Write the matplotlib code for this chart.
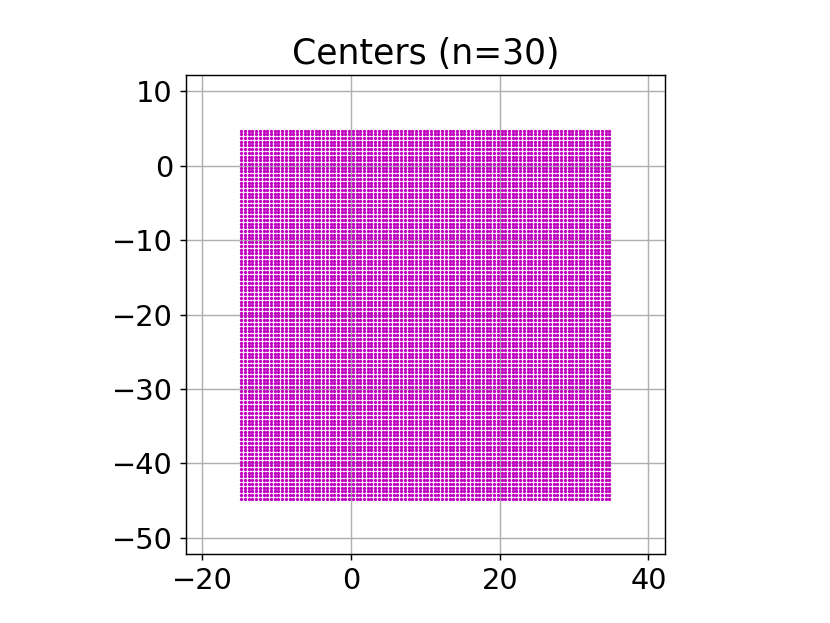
#!/usr/bin/env python3
"""Centers of the n=30 grid."""
import matplotlib
matplotlib.use("Agg")
import matplotlib.pyplot as plt

# grid coordinates (cell centers, step 0.5)
x_centers = [
    -14.75, -14.25, -13.75, -13.25, -12.75, -12.25, -11.75, -11.25, -10.75, -10.25,
    -9.75, -9.25, -8.75, -8.25, -7.75, -7.25, -6.75, -6.25, -5.75, -5.25,
    -4.75, -4.25, -3.75, -3.25, -2.75, -2.25, -1.75, -1.25, -0.75, -0.25,
    0.25, 0.75, 1.25, 1.75, 2.25, 2.75, 3.25, 3.75, 4.25, 4.75,
    5.25, 5.75, 6.25, 6.75, 7.25, 7.75, 8.25, 8.75, 9.25, 9.75,
    10.25, 10.75, 11.25, 11.75, 12.25, 12.75, 13.25, 13.75, 14.25, 14.75,
    15.25, 15.75, 16.25, 16.75, 17.25, 17.75, 18.25, 18.75, 19.25, 19.75,
    20.25, 20.75, 21.25, 21.75, 22.25, 22.75, 23.25, 23.75, 24.25, 24.75,
    25.25, 25.75, 26.25, 26.75, 27.25, 27.75, 28.25, 28.75, 29.25, 29.75,
    30.25, 30.75, 31.25, 31.75, 32.25, 32.75, 33.25, 33.75, 34.25, 34.75,
]
y_centers = [
    -44.75, -44.25, -43.75, -43.25, -42.75, -42.25, -41.75, -41.25, -40.75, -40.25,
    -39.75, -39.25, -38.75, -38.25, -37.75, -37.25, -36.75, -36.25, -35.75, -35.25,
    -34.75, -34.25, -33.75, -33.25, -32.75, -32.25, -31.75, -31.25, -30.75, -30.25,
    -29.75, -29.25, -28.75, -28.25, -27.75, -27.25, -26.75, -26.25, -25.75, -25.25,
    -24.75, -24.25, -23.75, -23.25, -22.75, -22.25, -21.75, -21.25, -20.75, -20.25,
    -19.75, -19.25, -18.75, -18.25, -17.75, -17.25, -16.75, -16.25, -15.75, -15.25,
    -14.75, -14.25, -13.75, -13.25, -12.75, -12.25, -11.75, -11.25, -10.75, -10.25,
    -9.75, -9.25, -8.75, -8.25, -7.75, -7.25, -6.75, -6.25, -5.75, -5.25,
    -4.75, -4.25, -3.75, -3.25, -2.75, -2.25, -1.75, -1.25, -0.75, -0.25,
    0.25, 0.75, 1.25, 1.75, 2.25, 2.75, 3.25, 3.75, 4.25, 4.75,
]
title = "Centers (n=30)"

xs = [x for x in x_centers for _ in y_centers]
ys = [y for _ in x_centers for y in y_centers]

plt.rcParams["font.size"] = 16
fig, ax = plt.subplots(figsize=(830 / 130, 623 / 130), dpi=130)
ax.scatter(xs, ys, s=3.4, c="m", marker="o", linewidths=0, zorder=2)
ax.set_xlim(-22.25, 42.25)
ax.set_ylim(-52.25, 12.25)
ax.set_aspect("equal")
ax.grid(True)
ax.set_title(title)
fig.savefig("out.png", dpi=130)
